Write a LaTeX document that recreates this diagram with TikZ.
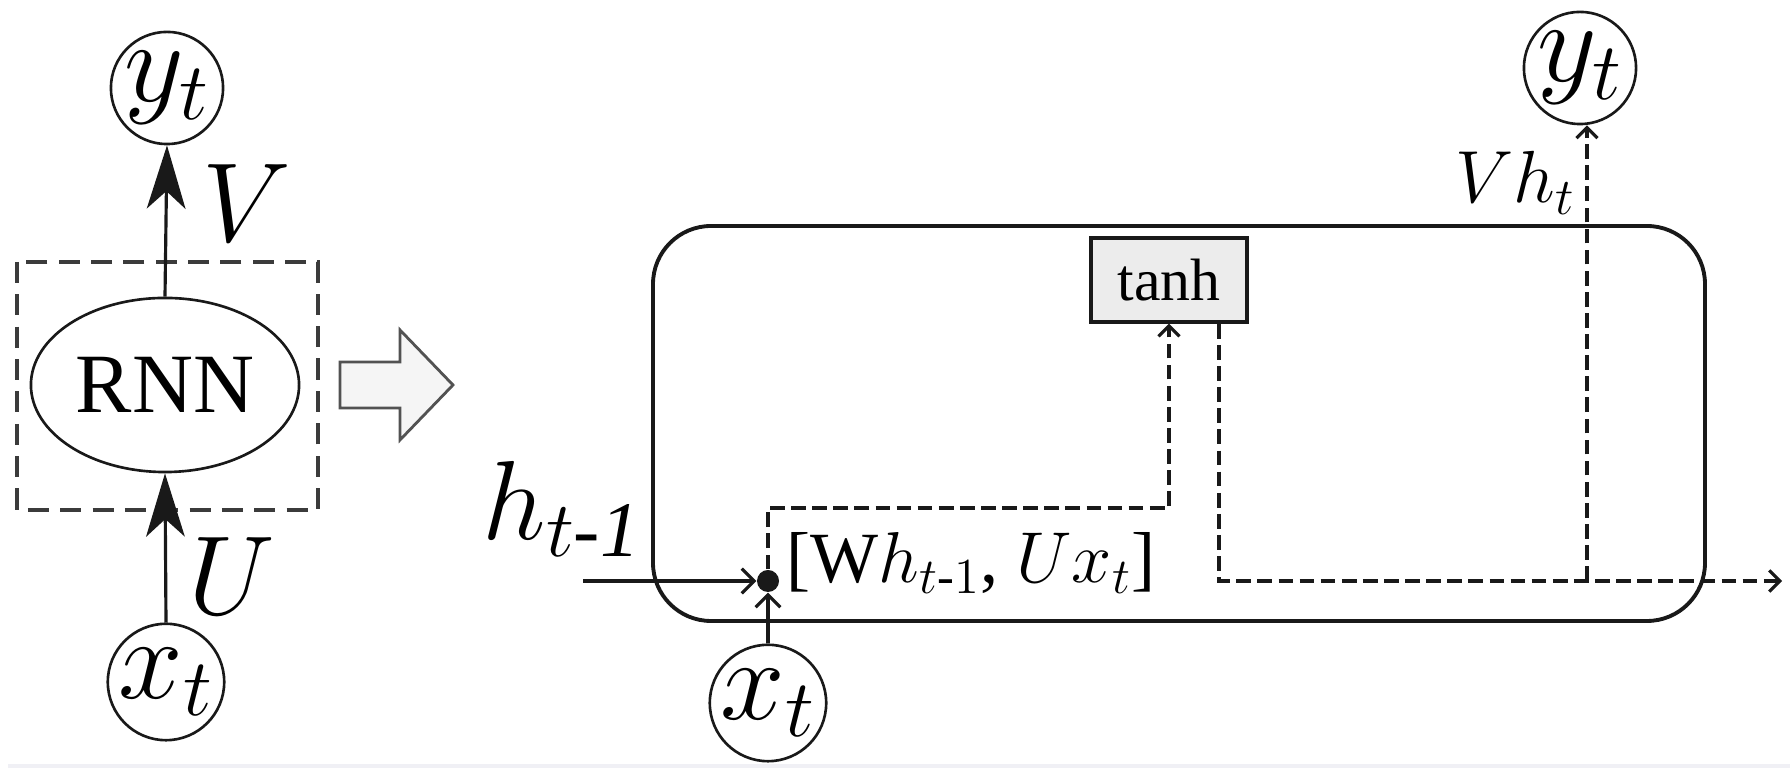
\RequirePackage{fix-cm}
\documentclass[tikz,border=0pt]{standalone}
\usepackage{amsmath}
\usepackage{fontspec}
\setmainfont{Liberation Serif}
\usetikzlibrary{arrows.meta,shapes.geometric}
\definecolor{ink}{RGB}{25,25,25}
\definecolor{band}{RGB}{240,240,245}
\tikzset{
  var/.style={circle,draw=ink,line width=0.75pt,minimum size=1.06cm,inner sep=0pt,
    font=\fontsize{33}{33}\selectfont},
  biglbl/.style={font=\fontsize{32}{32}\selectfont,inner sep=0pt},
  bigarrow/.style={draw=ink,line width=0.9pt,-{Stealth[length=18pt,width=11pt,inset=5pt]}},
  smallarrow/.style={draw=ink,line width=0.9pt,-{Straight Barb[length=3.5pt,width=7pt]}},
  dsh/.style={draw=ink,line width=0.9pt,dash pattern=on 4.2pt off 1.8pt},
  dsharrow/.style={dsh,-{Straight Barb[length=3pt,width=6pt]}},
}
\begin{document}
\begin{tikzpicture}[x=0.01cm,y=-0.01cm]
\useasboundingbox (0,0) rectangle (1790,768);
\fill[band] (8,764) rectangle (1790,768);

% ---------- left part ----------
\draw[ink!85,line width=1pt,dash pattern=on 6pt off 3.2pt] (17,262) rectangle (318,510);
\node[ellipse,draw=ink,line width=0.75pt,minimum width=2.68cm,minimum height=1.74cm,inner sep=0pt,
  font=\fontsize{24}{24}\selectfont] (rnn) at (165,385) {RNN};
\node[var] (yL) at (167,88) {$y_t$};
\node[var] (xL) at (166,682) {$x_t$};
\draw[bigarrow] (rnn.north) -- (yL.south);
\draw[bigarrow] (xL.north) -- (rnn.south);
\node[biglbl] (V) at (247,203) {$V$};
\node[biglbl] (U) at (232,576) {$U$};

% hollow arrow
\draw[draw=ink!75,line width=0.8pt,fill=gray!8]
  (340,362) -- (400,362) -- (400,330) -- (453,385) -- (400,440) -- (400,408) -- (340,408) -- cycle;

% ---------- right part ----------
\draw[ink,line width=1.1pt,rounded corners=0.58cm] (653,226) rectangle (1705,621);
\node[draw=ink,line width=0.9pt,fill=gray!15,minimum width=1.56cm,minimum height=0.84cm,inner sep=0pt,
  font=\fontsize{17}{17}\selectfont] (tanh) at (1169,280) {tanh};
\node[var,minimum size=1.1cm] (yR) at (1580,68) {$y_t$};
\node[var,minimum size=1.1cm] (xR) at (768,703) {$x_t$};
\node[circle,fill=ink,minimum size=0.22cm,inner sep=0pt] (dot) at (768,581) {};

\node[anchor=base west,inner sep=0pt,font=\fontsize{32}{32}\selectfont] (hprev) at (482,540)
  {$h_{t\text{-}\mathit{1}}$};
\node[anchor=base west,inner sep=0pt,font=\fontsize{20.5}{20.5}\selectfont] (comb) at (786,583)
  {[W$h_{t\text{-}1}$, $Ux_t$]};
\node[anchor=base east,inner sep=0pt,font=\fontsize{21}{21}\selectfont] (Vh) at (1576,203)
  {$Vh_t$};

\coordinate (hin) at (583,581);
\coordinate (c1) at (768,508);
\coordinate (tout) at (1219,324);
\coordinate (branch) at (1587,581);
\coordinate (hout) at (1782,581);

\draw[smallarrow] (hin) -- (dot.west);
\draw[smallarrow] (xR.north) -- (dot.south);
\draw[dsharrow] (dot.north) -- (c1) -| (tanh.south);
\draw[dsharrow] (tout) |- (hout);
\draw[dsharrow] (branch) -- (branch |- yR.south);
\end{tikzpicture}
\end{document}
